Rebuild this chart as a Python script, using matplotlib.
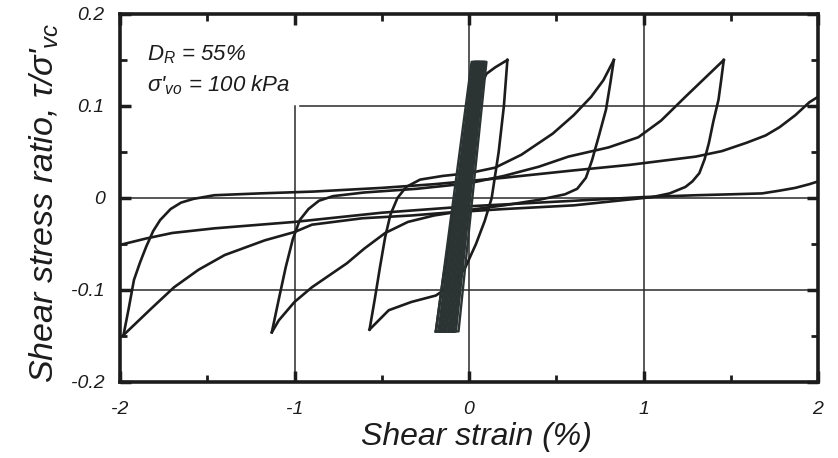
import matplotlib
matplotlib.use("Agg")
import matplotlib.pyplot as plt

plt.rcParams['font.family'] = ['Liberation Sans', 'DejaVu Sans']
plt.rcParams['font.style'] = 'italic'
plt.rcParams['mathtext.fontset'] = 'custom'
plt.rcParams['mathtext.rm'] = 'Liberation Sans:italic'
plt.rcParams['mathtext.it'] = 'Liberation Sans:italic'

# ---------------- data ----------------
# small, dense initial cycles: strain at negative / positive peaks
band_lo = [-0.19, -0.175, -0.16, -0.145, -0.13, -0.115, -0.10, -0.085]
band_hi = [0.035, 0.045, 0.055, 0.062, 0.07, 0.08, 0.09, 0.10]
band_min_stress = -0.145
band_max_stress = 0.148

load_1_x = [-0.19, -0.15, -0.10, -0.05, 0.0, 0.05, 0.10, 0.15, 0.22]
load_1_y = [-0.145, -0.09, -0.03, 0.03, 0.08, 0.115, 0.135, 0.142, 0.150]

unload_1_x = [0.22, 0.20, 0.17, 0.13, 0.09, 0.04, -0.02, -0.08, -0.19, -0.33, -0.46, -0.57]
unload_1_y = [0.150, 0.10, 0.05, 0.0, -0.025, -0.05, -0.075, -0.092, -0.106, -0.113, -0.122, -0.143]

load_2_x = [-0.57, -0.54, -0.51, -0.48, -0.45, -0.41, -0.36, -0.28, -0.15, 0.0, 0.15,
            0.30, 0.48, 0.60, 0.70, 0.77, 0.83]
load_2_y = [-0.143, -0.11, -0.075, -0.042, -0.018, 0.0, 0.012, 0.02, 0.024, 0.027, 0.033,
            0.047, 0.07, 0.09, 0.11, 0.128, 0.150]

unload_2_x = [0.83, 0.81, 0.785, 0.745, 0.705, 0.67, 0.62, 0.55, 0.40, 0.20, 0.0, -0.20,
              -0.35, -0.48, -0.60, -0.70, -0.80, -0.90, -1.00, -1.09, -1.13]
unload_2_y = [0.150, 0.125, 0.096, 0.068, 0.041, 0.022, 0.010, 0.004, -0.002, -0.008, -0.013,
              -0.019, -0.026, -0.038, -0.055, -0.071, -0.084, -0.097, -0.113, -0.133, -0.146]

load_3_x = [-1.13, -1.09, -1.05, -1.01, -0.97, -0.92, -0.86, -0.78, -0.6, -0.3, 0.0, 0.2,
            0.4, 0.57, 0.8, 0.97, 1.1, 1.24, 1.35, 1.46]
load_3_y = [-0.146, -0.11, -0.075, -0.045, -0.024, -0.012, -0.003, 0.002, 0.006, 0.01, 0.016,
            0.024, 0.034, 0.045, 0.055, 0.066, 0.084, 0.11, 0.13, 0.150]

unload_3_x = [1.46, 1.445, 1.43, 1.40, 1.375, 1.35, 1.32, 1.28, 1.24, 1.15, 1.05, 0.8, 0.6,
              0.2, -0.13, -0.33, -0.61, -0.9, -1.0, -1.17, -1.4, -1.55, -1.69, -1.82, -1.98]
unload_3_y = [0.150, 0.128, 0.107, 0.083, 0.060, 0.042, 0.027, 0.018, 0.012, 0.005, 0.001,
              -0.004, -0.008, -0.012, -0.016, -0.019, -0.022, -0.029, -0.037, -0.046, -0.062,
              -0.078, -0.097, -0.12, -0.149]

load_4_x = [-1.98, -1.95, -1.92, -1.885, -1.85, -1.81, -1.77, -1.71, -1.65, -1.58, -1.46,
            -1.2, -0.89, -0.5, -0.2, 0.2, 0.6, 0.92, 1.3, 1.45, 1.59, 1.7, 1.78, 1.87, 1.95, 2.0]
load_4_y = [-0.149, -0.12, -0.089, -0.07, -0.053, -0.036, -0.024, -0.012, -0.005, -0.001,
            0.003, 0.005, 0.007, 0.011, 0.015, 0.022, 0.03, 0.036, 0.045, 0.051, 0.06, 0.068,
            0.077, 0.09, 0.104, 0.11]

unload_4_x = [2.0, 1.95, 1.87, 1.78, 1.68, 1.5, 1.3, 1.0, 0.5, 0.0, -0.5, -1.0, -1.46,
              -1.7, -1.85, -2.0]
unload_4_y = [0.018, 0.015, 0.011, 0.008, 0.005, 0.004, 0.003, 0.001, -0.004, -0.009,
              -0.016, -0.026, -0.033, -0.038, -0.044, -0.051]

x_ticks = [-2, -1, 0, 1, 2]
x_tick_labels = ['-2', '-1', '0', '1', '2']
y_ticks = [-0.2, -0.1, 0, 0.1, 0.2]
y_tick_labels = ['-0.2', '-0.1', '0', '0.1', '0.2']

# ---------------- figure ----------------
fig = plt.figure(figsize=(8.38, 4.58), dpi=100)
ax = fig.add_axes([120 / 838, 1 - 382 / 458, 698 / 838, 368 / 458])
ax.set_xlim(-2, 2)
ax.set_ylim(-0.2, 0.2)

grid_kw = dict(color='#2a2a2a', lw=1.1, zorder=1)
# partial grid (upper-left left open for the annotation)
ax.plot([-1, -1], [-0.2, 0.1], **grid_kw)
ax.plot([0, 0], [-0.2, 0.2], **grid_kw)
ax.plot([1, 1], [-0.2, 0.2], **grid_kw)
ax.plot([-0.97, 2], [0.1, 0.1], **grid_kw)
ax.plot([-2, 2], [0, 0], **grid_kw)
ax.plot([-2, 2], [-0.1, -0.1], **grid_kw)

line_kw = dict(color='#1c1c1c', lw=1.9, solid_joinstyle='round', zorder=3)
band_kw = dict(color='#2b3333', lw=1.7, zorder=4)

for lo, hi in zip(band_lo, band_hi):
    bx = [lo, hi - 0.02, hi, lo + 0.025, lo]
    by = [band_min_stress, band_max_stress, band_max_stress, band_min_stress, band_min_stress]
    ax.plot(bx, by, **band_kw)

for xs, ys in [(load_1_x, load_1_y), (unload_1_x, unload_1_y),
               (load_2_x, load_2_y), (unload_2_x, unload_2_y),
               (load_3_x, load_3_y), (unload_3_x, unload_3_y),
               (load_4_x, load_4_y), (unload_4_x, unload_4_y)]:
    ax.plot(xs, ys, **line_kw)

ax.set_xticks(x_ticks)
ax.set_xticklabels(x_tick_labels)
ax.set_yticks(y_ticks)
ax.set_yticklabels(y_tick_labels)
ax.set_xticks([-1.5, -0.5, 0.5, 1.5], minor=True)
ax.set_yticks([-0.15, -0.05, 0.05, 0.15], minor=True)
ax.tick_params(which='both', direction='in', top=True, right=True, color='#1c1c1c')
ax.tick_params(which='major', length=8, width=2.5, labelsize=14, colors='#1c1c1c')
ax.tick_params(which='minor', length=5, width=2.0)
ax.tick_params(axis='x', which='major', pad=14)
ax.tick_params(axis='y', which='major', pad=11)
for lab in ax.get_xticklabels() + ax.get_yticklabels():
    lab.set_fontstyle('italic')

for s in ax.spines.values():
    s.set_linewidth(2.6)
    s.set_color('#1c1c1c')

ax.text(0.039, 0.875, r"$D_R$ = 55%", transform=ax.transAxes, fontsize=16,
        color='#1c1c1c', style='italic')
ax.text(0.039, 0.79, r"σ'$_{vo}$ = 100 kPa", transform=ax.transAxes, fontsize=16,
        color='#1c1c1c', style='italic')

fig.text(476 / 838, 1 - 437 / 458, "Shear strain (%)", ha='center', va='center',
         fontsize=23, style='italic', color='#1c1c1c')
fig.text(44 / 838, 1 - 203 / 458, r"Shear stress ratio, τ/σ'$_{vc}$", ha='center',
         va='center', rotation=90, fontsize=24.5, style='italic', color='#1c1c1c')

fig.savefig("out.png", dpi=100)
